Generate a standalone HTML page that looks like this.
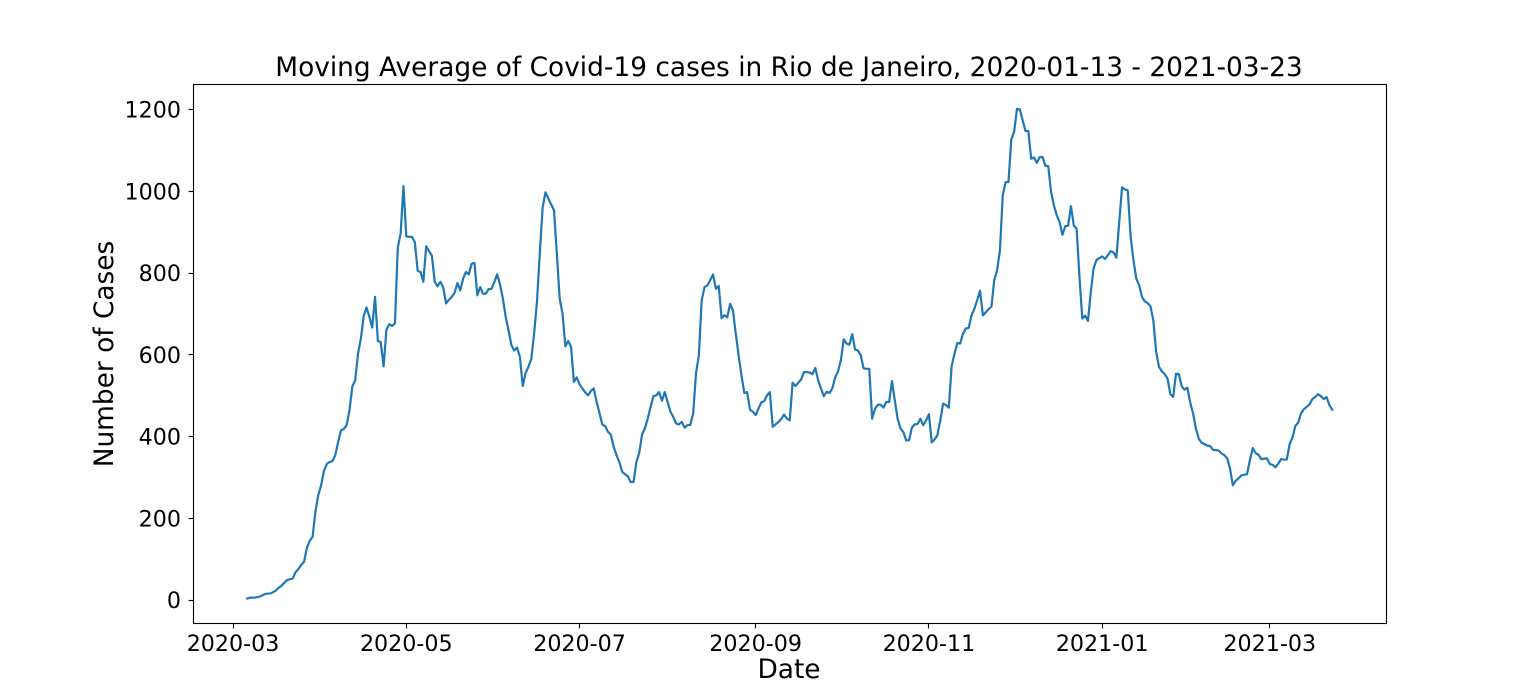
<!DOCTYPE html>
<html lang="en">
<head>
<meta charset="utf-8">
<title>Moving Average of Covid-19 cases in Rio de Janeiro</title>
<style>
html,body{margin:0;padding:0;background:#fff;width:1540px;height:700px;overflow:hidden}
svg{display:block}
text{font-family:"DejaVu Sans",sans-serif;fill:#000}
</style>
</head>
<body>
<svg id="chart" width="1540" height="700" viewBox="0 0 1540 700" xmlns="http://www.w3.org/2000/svg">
  <rect x="0" y="0" width="1540" height="700" fill="#fff"/>
  <g id="marks"></g>
  <g id="x-axis"></g>
  <g id="y-axis"></g>
  <rect x="193.5" y="84.5" width="1193" height="539" fill="none" stroke="#000" stroke-width="1.1"/>
  <text x="789" y="76" text-anchor="middle" font-size="26.4px">Moving Average of Covid-19 cases in Rio de Janeiro, 2020-01-13 - 2021-03-23</text>
  <text x="789" y="678" text-anchor="middle" font-size="26.4px">Date</text>
  <text x="113" y="354" text-anchor="middle" font-size="26.4px" transform="rotate(-90 113 354)">Number of Cases</text>
</svg>
<script>
const startDate = '2020-03-06';
const caseValues = [
4,6,6,6.5,8,10.6,14,16,16,19,23,30,35,42,49,51,53,68,76,86,
94,128,145,155,216,257,281,316,333,338,340,355,387,415,419,428,465,523,538,603,
640,695,716,693,667,742,634,631,572,662,675,671,677,863,897,1013,890,889,889,876,
806,803,779,866,854,843,779,768,779,765,726,735,742,752,776,758,787,803,797,823,
825,746,766,750,750,761,762,779,797,772,738,693,660,624,611,618,595,524,556,571,
590,652,730,848,961,998,983,968,954,848,738,701,621,634,620,534,545,528,518,508,
501,512,518,485,458,430,426,412,405,375,355,338,314,308,303,289,289,338,360,405,
420,444,473,499,501,509,488,509,485,461,448,432,430,436,422,428,429,457,555,599,
734,766,770,783,797,762,769,690,697,692,725,709,652,599,550,507,509,466,461,453,
469,484,487,501,509,424,430,436,443,454,444,440,532,524,532,540,558,558,557,553,
568,538,518,499,510,507,518,545,560,587,638,628,625,651,613,611,599,567,566,566,
444,468,478,478,471,485,485,536,488,443,420,411,391,391,422,430,431,444,428,440,
455,386,393,404,440,481,477,471,573,603,629,628,652,665,666,697,713,734,757,697,
704,712,718,783,807,856,991,1023,1023,1127,1146,1202,1201,1174,1148,1148,1080,1083,1070,1084,
1084,1063,1062,999,966,942,925,894,915,916,964,917,909,791,689,696,683,755,813,832,
837,841,835,844,854,851,838,925,1010,1005,1003,890,832,787,771,742,731,727,719,685,
608,571,560,553,542,504,497,554,553,523,515,520,483,457,420,395,385,382,378,377,
368,367,366,359,355,347,322,281,292,298,305,307,308,342,372,360,356,345,346,347,
333,331,325,334,345,344,344,382,398,426,434,457,467,473,479,492,497,504,499,492,
497,477,466
];
const xTickDates = ['2020-03-01','2020-05-01','2020-07-01','2020-09-01','2020-11-01','2021-01-01','2021-03-01'];
const yTickValues = [0,200,400,600,800,1000,1200];

const svgNS = 'http://www.w3.org/2000/svg';
const DAY_MS = 86400000;
const plot = {left: 193, right: 1386.5, top: 84, bottom: 623};
const xDomain = [Date.parse('2020-03-01') - 14.1 * DAY_MS, Date.parse('2021-03-23') + 19.1 * DAY_MS];
const yDomain = [-56, 1263];

function xScale(ms) {
  return plot.left + (ms - xDomain[0]) / (xDomain[1] - xDomain[0]) * (plot.right - plot.left);
}
function yScale(v) {
  return plot.bottom - (v - yDomain[0]) / (yDomain[1] - yDomain[0]) * (plot.bottom - plot.top);
}
function make(tag, attrs, parent) {
  const el = document.createElementNS(svgNS, tag);
  for (const k in attrs) el.setAttribute(k, attrs[k]);
  parent.appendChild(el);
  return el;
}

const marks = document.getElementById('marks');
const xAxis = document.getElementById('x-axis');
const yAxis = document.getElementById('y-axis');

const startMs = Date.parse(startDate);
const pts = caseValues.map(function (v, i) {
  return xScale(startMs + i * DAY_MS).toFixed(2) + ',' + yScale(v).toFixed(2);
});
const line = make('polyline', {points: pts.join(' '), fill: 'none', stroke: '#1f77b4', 'stroke-width': 2.2, 'stroke-linejoin': 'round', 'stroke-linecap': 'square'}, marks);



xTickDates.forEach(function (d) {
  const x = xScale(Date.parse(d));
  const snapped = Math.floor(x) + 0.5;
  const tick = make('line', {x1: snapped, x2: snapped, y1: plot.bottom + 0.5, y2: plot.bottom + 5.4, stroke: '#000', 'stroke-width': 1.1}, xAxis);
  
  
  const label = make('text', {x: x, y: 651, 'text-anchor': 'middle', 'font-size': '22.2px'}, xAxis);
  label.textContent = d.slice(0, 7);
  
  
});

yTickValues.forEach(function (v) {
  const y = yScale(v);
  const snapped = Math.ceil(y) - 0.5;
  const tick = make('line', {x1: plot.left - 4.4, x2: plot.left + 0.5, y1: snapped, y2: snapped, stroke: '#000', 'stroke-width': 1.1}, yAxis);
  
  
  const label = make('text', {x: 181, y: y + 8, 'text-anchor': 'end', 'font-size': '22.2px'}, yAxis);
  label.textContent = String(v);
  
  
});
</script>
</body>
</html>
